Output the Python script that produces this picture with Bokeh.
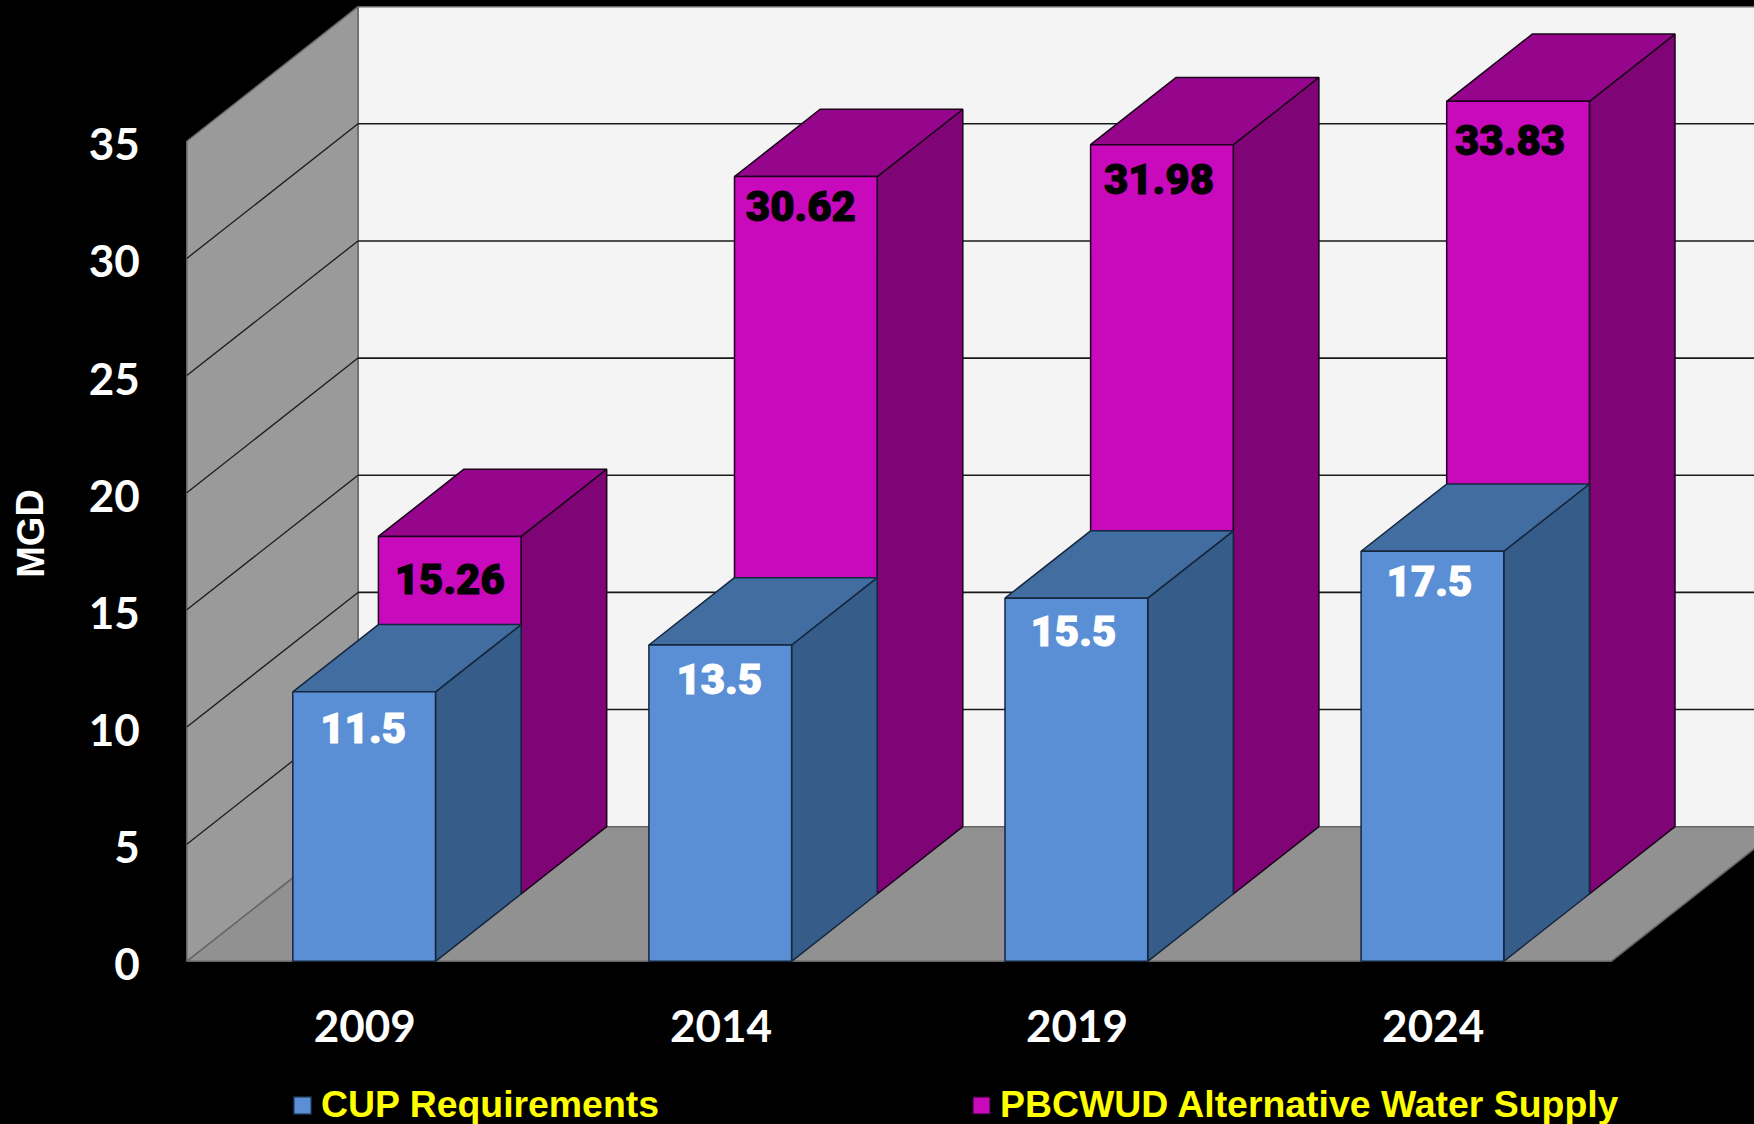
from bokeh.plotting import figure
from bokeh.models import Range1d, FixedTicker, Legend, LegendItem, ColumnDataSource, Label
from bokeh.core.properties import value
from bokeh.embed import file_html
from bokeh.resources import INLINE

# ---- data ----
years = ["2009", "2014", "2019", "2024"]
cup_requirements = [11.5, 13.5, 15.5, 17.5]
alternative_supply = [15.26, 30.62, 31.98, 33.83]
y_ticks = [0, 5, 10, 15, 20, 25, 30, 35]
cup_label = "CUP Requirements"
alt_label = "PBCWUD Alternative Water Supply"
y_title = "MGD"

# ---- geometry of the pseudo-3D box, in data units ----
PX_X = 356.1            # pixels per category
PX_Y = 23.43            # pixels per MGD
ORIGIN_X, ORIGIN_Y = 186.3, 960.8   # pixel position of (0, 0)
DX = 85.6 / PX_X        # depth of one bar row, along x
DY = 67.3 / PX_Y        # depth of one bar row, along y
BAR_START = 106.0 / PX_X
BAR_W = 142.7 / PX_X
N = len(years)

W, H = 1754, 1124
Y0, Y1 = (ORIGIN_Y - H) / PX_Y, ORIGIN_Y / PX_Y
TICK_SHIFT = 3.0 / PX_Y  # tick labels sit a little under their grid level

# the frame fills the whole figure, the axes are pinned inside it
p = figure(width=W, height=H, output_backend="svg", toolbar_location=None,
           x_range=Range1d((0 - ORIGIN_X) / PX_X, (W - ORIGIN_X) / PX_X),
           y_range=Range1d(Y0, Y1),
           extra_y_ranges={"ticks": Range1d(Y0 + TICK_SHIFT, Y1 + TICK_SHIFT)},
           min_border_left=0, min_border_right=0, min_border_top=0, min_border_bottom=0,
           background_fill_color="#000000", border_fill_color="#000000",
           outline_line_color=None)
p.grid.visible = False

FONT = "Lato"
xa, ya = p.xaxis[0], p.yaxis[0]
xa.fixed_location = 0
ya.fixed_location = 0
ya.y_range_name = "ticks"
xa.ticker = FixedTicker(ticks=[i + 0.5 for i in range(N)])
xa.major_label_overrides = {i + 0.5: y for i, y in enumerate(years)}
ya.ticker = FixedTicker(ticks=y_ticks)
for a in (xa, ya):
    a.axis_line_color = None
    a.major_tick_line_color = None
    a.minor_tick_line_color = None
    a.major_label_text_color = "#ffffff"
    a.major_label_text_font = FONT
    a.major_label_text_font_style = "bold"
    a.major_label_text_font_size = "44px"
xa.major_label_standoff = 43
ya.major_label_standoff = 41

top_val = y_ticks[-1]
far = N + 2 * DX + 1

# back wall, side wall, floor
EDGE = "#666666"
p.patch([2 * DX, far, far, 2 * DX], [2 * DY, 2 * DY, top_val + 2 * DY, top_val + 2 * DY],
        fill_color="#f4f4f4", line_color=EDGE, line_width=1.5)
p.patch([0, 2 * DX, 2 * DX, 0], [0, 2 * DY, top_val + 2 * DY, top_val],
        fill_color="#9a9a9a", line_color=EDGE, line_width=1.5)

# grid lines on the side wall and the back wall
gy = y_ticks[1:-1]
p.segment([0] * len(gy), gy, [2 * DX] * len(gy), [v + 2 * DY for v in gy],
          line_color="#1a1a1a", line_width=1.3)
p.segment([2 * DX] * len(gy), [v + 2 * DY for v in gy], [far] * len(gy), [v + 2 * DY for v in gy],
          line_color="#1a1a1a", line_width=1.6)

p.patch([0, N, N + 2 * DX, 2 * DX], [0, 0, 2 * DY, 2 * DY],
        fill_color="#919191", line_color=EDGE, line_width=1.5)


def draw_bars(vals, depth, front, top, side, edge):
    lefts = [i + BAR_START + depth * DX for i in range(N)]
    rights = [l + BAR_W for l in lefts]
    b = depth * DY
    p.patches([[r, r + DX, r + DX, r] for r in rights],
              [[b, b + DY, b + DY + v, b + v] for v in vals],
              fill_color=side, line_color=edge, line_width=1.5)
    p.patches([[l, r, r + DX, l + DX] for l, r in zip(lefts, rights)],
              [[b + v, b + v, b + v + DY, b + v + DY] for v in vals],
              fill_color=top, line_color=edge, line_width=1.5)
    return p.quad(left=lefts, right=rights, bottom=[b] * N, top=[b + v for v in vals],
                  fill_color=front, line_color=edge, line_width=1.5)


alt_bars = draw_bars(alternative_supply, 1, "#c809bc", "#95068c", "#7f0476", "#1a0018")
cup_bars = draw_bars(cup_requirements, 0, "#5a8fd6", "#426da0", "#365c89", "#15263d")

# value labels: nudge in pixels from each bar's top centre
alt_nudge_x = [0, -5, -3, -8]
alt_nudge_y = [43, 29, 34, 39]
cup_nudge_x = [-1, -1, -3, -3]
cup_nudge_y = [36, 34, 33, 30]


def draw_labels(vals, depth, nudge_x, nudge_y, color, texts):
    src = ColumnDataSource(dict(
        x=[i + BAR_START + depth * DX + BAR_W / 2 for i in range(N)],
        y=[depth * DY + v for v in vals],
        t=texts, xo=nudge_x, yo=nudge_y))
    p.text("x", "y", text="t", source=src, x_offset="xo", y_offset="yo",
           text_align="center", text_baseline="middle",
           text_color=color, text_outline_color=color,
           text_font=value("Roboto Black"),
           text_font_size="42px")


draw_labels(alternative_supply, 1, alt_nudge_x, alt_nudge_y, "#000000",
            [f"{v:.2f}" for v in alternative_supply])
draw_labels(cup_requirements, 0, cup_nudge_x, cup_nudge_y, "#ffffff",
            [f"{v:g}" for v in cup_requirements])

# rotated y title
p.add_layout(Label(x=(30 - ORIGIN_X) / PX_X, y=(ORIGIN_Y - 533) / PX_Y, text=y_title,
                   angle=1.5708, text_align="center", text_baseline="middle",
                   text_color="#ffffff", text_font="Liberation Sans",
                   text_font_style="bold", text_font_size="38px"))

legend = Legend(items=[LegendItem(label=cup_label, renderers=[cup_bars]),
                       LegendItem(label=alt_label, renderers=[alt_bars])],
                orientation="horizontal", location=(291, -2),
                background_fill_alpha=0, border_line_color=None,
                margin=0, padding=0, spacing=311,
                glyph_width=22, glyph_height=22, label_standoff=8,
                label_text_color="#ffff00", label_text_font="Liberation Sans",
                label_text_font_style="bold", label_text_font_size="37.4px",
                label_height=38)
p.add_layout(legend, "center")

html = file_html(p, INLINE)
html = html.replace("<body>", '<body style="margin:0;background:#000;overflow:hidden">')
open("out.html", "w").write(html)
